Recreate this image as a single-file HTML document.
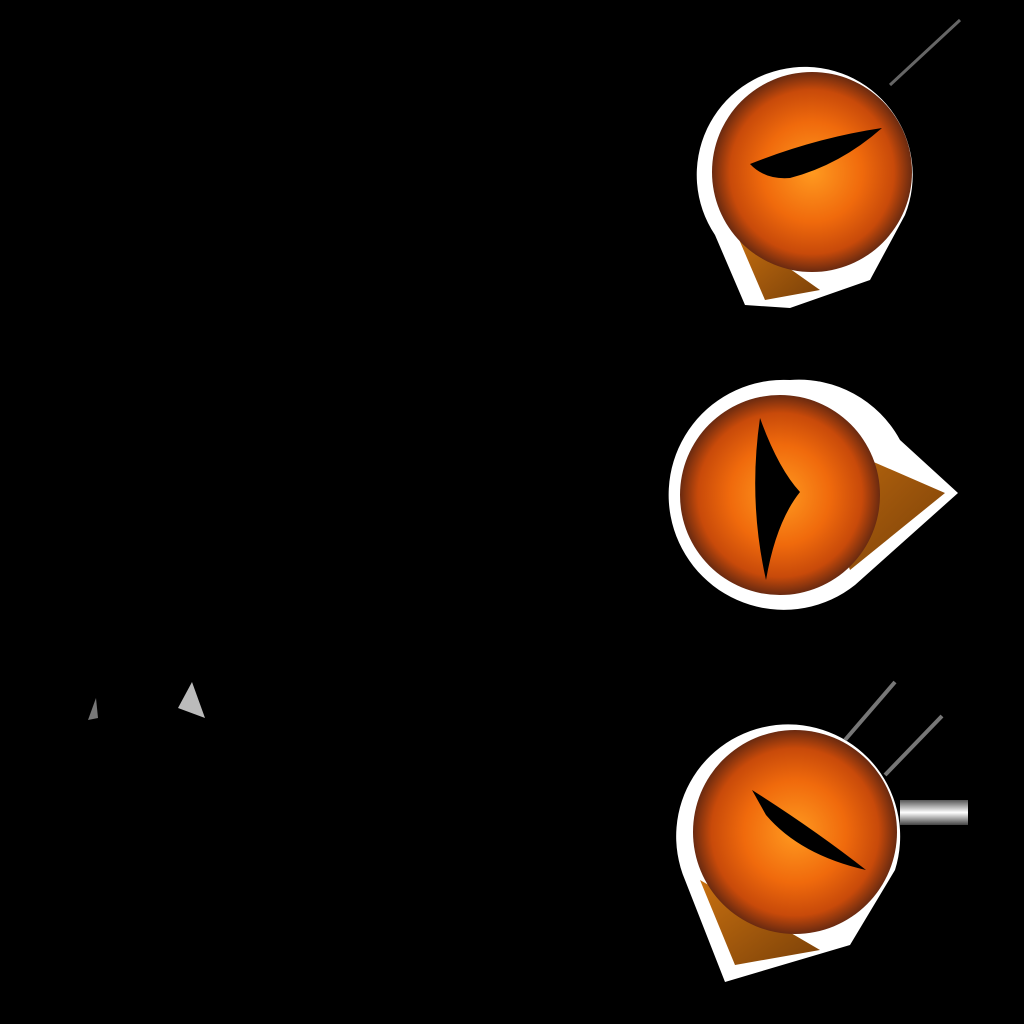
<!DOCTYPE html>
<html><head><meta charset="utf-8"><style>html,body{margin:0;padding:0;background:#000;width:1024px;height:1024px;overflow:hidden}</style></head>
<body>
<svg width="1024" height="1024" viewBox="0 0 1024 1024">
<defs>
<radialGradient id="iris" cx="50%" cy="50%" r="50%">
<stop offset="0" stop-color="#ff9a20"/><stop offset="0.5" stop-color="#f06a0c"/><stop offset="0.82" stop-color="#c84a0a"/><stop offset="1" stop-color="#6a2a10"/>
</radialGradient>
<linearGradient id="bar" x1="0" y1="0" x2="0" y2="1"><stop offset="0" stop-color="#555"/><stop offset="0.5" stop-color="#fff"/><stop offset="1" stop-color="#444"/></linearGradient>
<linearGradient id="corner" x1="0" y1="0" x2="1" y2="1"><stop offset="0" stop-color="#c87010"/><stop offset="1" stop-color="#7a4008"/></linearGradient>
</defs>
<rect width="1024" height="1024" fill="#000"/>
<g>
<path d="M745,305 L715,235 A108,108 0 1 1 905,215 L870,280 L790,308 Z" fill="#fff"/>
<path d="M765,300 L735,230 L820,290 Z" fill="url(#corner)"/>
<circle cx="812" cy="172" r="100" fill="url(#iris)"/>
<path d="M750,164 Q815,138 882,128 Q840,165 790,178 Q765,180 750,164 Z" fill="#000"/>
<line x1="890" y1="85" x2="960" y2="20" stroke="#666" stroke-width="3"/>
</g>
<g>
<path d="M790,380 A115,115 0 1 0 855,585 L958,493 L900,440 A115,115 0 0 0 790,380 Z" fill="#fff"/>
<path d="M800,430 L945,493 L850,570 Z" fill="url(#corner)"/>
<circle cx="780" cy="495" r="100" fill="url(#iris)"/>
<path d="M760,418 Q778,468 800,492 Q776,522 766,580 Q748,500 760,418 Z" fill="#000"/>
</g>
<g>
<path d="M725,982 L685,880 A112,112 0 1 1 895,870 L850,945 Z" fill="#fff"/>
<path d="M735,965 L700,880 L820,950 Z" fill="url(#corner)"/>
<circle cx="795" cy="832" r="102" fill="url(#iris)"/>
<path d="M752,790 Q815,830 866,870 Q800,855 766,815 Z" fill="#000"/>
<rect x="900" y="800" width="68" height="25" fill="url(#bar)"/>
<line x1="845" y1="740" x2="895" y2="682" stroke="#777" stroke-width="4"/>
<line x1="885" y1="775" x2="942" y2="716" stroke="#777" stroke-width="4"/>
</g>
<g>
<polygon points="178,708 192,682 205,718" fill="#bbb"/>
<polygon points="88,720 96,698 98,718" fill="#777"/>
</g>
</svg>
</body></html>
